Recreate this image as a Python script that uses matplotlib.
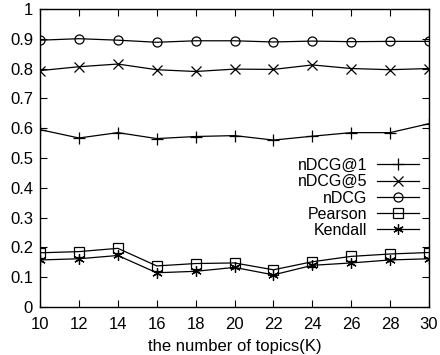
import matplotlib
matplotlib.use("Agg")
import matplotlib.pyplot as plt

plt.rcParams['font.family'] = ['Liberation Sans', 'DejaVu Sans']

# number of topics K
topics = [10, 12, 14, 16, 18, 20, 22, 24, 26, 28, 30]

ndcg1 = [0.595, 0.567, 0.585, 0.565, 0.572, 0.575, 0.560, 0.573, 0.585, 0.585, 0.615]
ndcg5 = [0.793, 0.806, 0.815, 0.796, 0.790, 0.798, 0.797, 0.812, 0.800, 0.796, 0.800]
ndcg = [0.895, 0.900, 0.895, 0.888, 0.893, 0.893, 0.889, 0.892, 0.890, 0.891, 0.891]
pearson = [0.182, 0.186, 0.197, 0.138, 0.146, 0.148, 0.125, 0.152, 0.170, 0.178, 0.183]
kendall = [0.158, 0.162, 0.173, 0.115, 0.120, 0.133, 0.108, 0.140, 0.148, 0.158, 0.162]

fig = plt.figure(figsize=(4.4, 3.55), dpi=100)
ax = fig.add_axes([0.091, 0.135, 0.884, 0.840])

kw = dict(color='black', lw=0.9, mew=0.9, mfc='none')
ax.plot(topics, ndcg1, marker='+', ms=8, label='nDCG@1', **kw)
ax.plot(topics, ndcg5, marker='x', ms=6.5, label='nDCG@5', **kw)
ax.plot(topics, ndcg, marker='o', ms=6.5, label='nDCG', **kw)
ax.plot(topics, pearson, marker='s', ms=6.5, label='Pearson', **kw)
ax.plot(topics, kendall, marker=(6, 2, 0), ms=7.5, label='Kendall', **kw)

ax.set_xlim(10, 30)
ax.set_ylim(0, 1)
ax.set_xticks(topics)
ax.set_yticks([0, 0.1, 0.2, 0.3, 0.4, 0.5, 0.6, 0.7, 0.8, 0.9, 1])
ax.set_yticklabels(['0', '0.1', '0.2', '0.3', '0.4', '0.5', '0.6', '0.7', '0.8', '0.9', '1'])
ax.tick_params(direction='in', top=True, right=True, length=5, width=0.8,
               labelsize=12)
ax.tick_params(axis='x', pad=7)
ax.tick_params(axis='y', pad=5)
for s in ax.spines.values():
    s.set_linewidth(1.0)

ax.set_xlabel('the number of topics(K)', fontsize=12, labelpad=5)

ax.legend(loc='upper right', bbox_to_anchor=(0.974, 0.50), frameon=False,
          markerfirst=False, fontsize=11.5, handlelength=2.6, handletextpad=0.63,
          labelspacing=0.08, borderpad=0, borderaxespad=0)

fig.savefig('out.png', dpi=100)
